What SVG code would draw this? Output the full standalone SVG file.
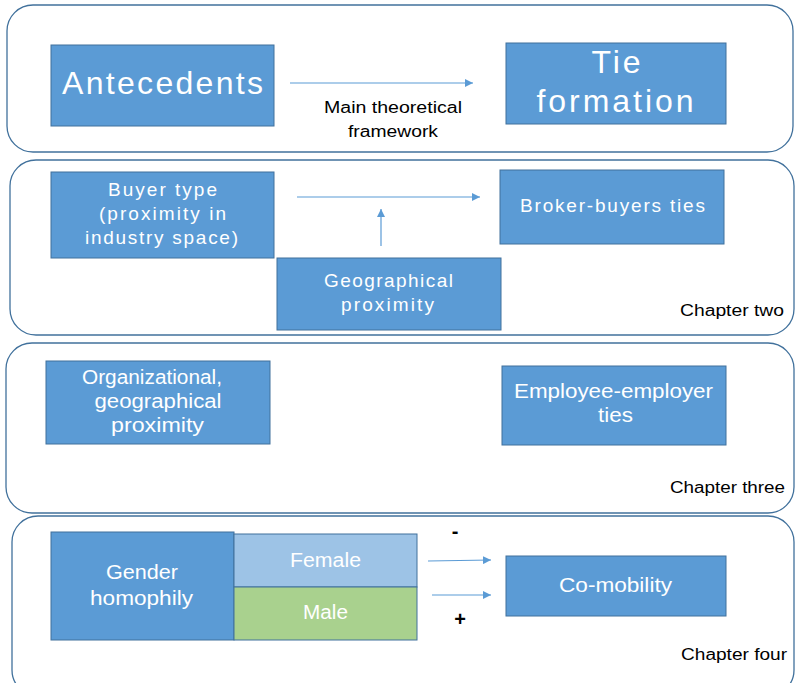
<svg xmlns="http://www.w3.org/2000/svg" width="795" height="683" viewBox="0 0 795 683">
<style>
.panel{fill:#fff;stroke:#41719C;stroke-width:1.3}
.box{fill:#5B9BD5;stroke:#41719C;stroke-width:1}
.bt{fill:#fff;font-family:"Liberation Sans",Arial,sans-serif;text-anchor:middle}
.lbl{fill:#000;font-family:"Liberation Sans",Arial,sans-serif;font-size:16px;text-anchor:middle}
.sign{fill:#000;font-family:"Liberation Sans",Arial,sans-serif;font-weight:bold;text-anchor:middle}
.con{stroke:#5B9BD5;stroke-width:1.2;fill:none;marker-end:url(#ah)}
</style>
<defs>
<marker id="ah" viewBox="0 0 10 10" refX="10" refY="5" markerWidth="8" markerHeight="8" markerUnits="userSpaceOnUse" orient="auto">
<path d="M0,0 L10,5 L0,10 z" fill="#5B9BD5"/>
</marker>
</defs>
<rect width="795" height="683" fill="#fff"/>
<g id="panels">
<rect class="panel" x="7" y="5" width="786" height="147" rx="26"/>
<rect class="panel" x="10" y="160" width="784" height="175" rx="26"/>
<rect class="panel" x="6" y="343" width="788" height="170" rx="26"/>
<rect class="panel" x="12" y="516" width="782" height="180" rx="26"/>
</g>
<g id="antecedents">
<rect class="box" x="51" y="45" width="223" height="81"/>
<text class="bt" x="162.5" y="94" font-size="32" textLength="201" lengthAdjust="spacing">Antecedents</text>
</g>
<g id="tie-formation">
<rect class="box" x="506" y="43" width="220" height="81"/>
<text class="bt" x="616" y="73" font-size="32" textLength="49" lengthAdjust="spacing">Tie</text>
<text class="bt" x="615" y="112" font-size="32" textLength="157" lengthAdjust="spacing">formation</text>
</g>
<g id="main-label">
<text class="lbl" x="393" y="113" font-size="17" textLength="138" lengthAdjust="spacingAndGlyphs">Main theoretical</text>
<text class="lbl" x="393" y="137" font-size="17" textLength="90" lengthAdjust="spacingAndGlyphs">framework</text>
</g>
<g id="buyer-type">
<rect class="box" x="51" y="172" width="223" height="86"/>
<text class="bt" x="162.5" y="196" font-size="19" textLength="109" lengthAdjust="spacing">Buyer type</text>
<text class="bt" x="162.5" y="220" font-size="19" textLength="127" lengthAdjust="spacing">(proximity in</text>
<text class="bt" x="161.5" y="244" font-size="19" textLength="153" lengthAdjust="spacing">industry space)</text>
</g>
<g id="geo-proximity">
<rect class="box" x="277" y="258" width="224" height="72"/>
<text class="bt" x="388.5" y="287" font-size="19" textLength="129" lengthAdjust="spacing">Geographical</text>
<text class="bt" x="387.5" y="311" font-size="19" textLength="93" lengthAdjust="spacing">proximity</text>
</g>
<g id="broker-buyers">
<rect class="box" x="500" y="170" width="224" height="74"/>
<text class="bt" x="612.5" y="212" font-size="19" textLength="185" lengthAdjust="spacing">Broker-buyers ties</text>
</g>
<g id="chapter-two-label"><text class="lbl" x="732" y="316" font-size="17" textLength="104" lengthAdjust="spacingAndGlyphs">Chapter two</text></g>
<g id="org-geo">
<rect class="box" x="46" y="361" width="224" height="83"/>
<text class="bt" x="152" y="384" font-size="20" textLength="140" lengthAdjust="spacingAndGlyphs">Organizational,</text>
<text class="bt" x="158" y="408" font-size="20" textLength="127" lengthAdjust="spacingAndGlyphs">geographical</text>
<text class="bt" x="157.5" y="432" font-size="20" textLength="93" lengthAdjust="spacingAndGlyphs">proximity</text>
</g>
<g id="employee-employer">
<rect class="box" x="502" y="366" width="224" height="79"/>
<text class="bt" x="613.5" y="398" font-size="20" textLength="199" lengthAdjust="spacingAndGlyphs">Employee-employer</text>
<text class="bt" x="615.5" y="422" font-size="20" textLength="35" lengthAdjust="spacingAndGlyphs">ties</text>
</g>
<g id="chapter-three-label"><text class="lbl" x="727.5" y="493" font-size="17" textLength="115" lengthAdjust="spacingAndGlyphs">Chapter three</text></g>
<g id="gender-homophily">
<rect class="box" x="51" y="532" width="183" height="108"/>
<text class="bt" x="142" y="579" font-size="20" textLength="72" lengthAdjust="spacingAndGlyphs">Gender</text>
<text class="bt" x="141.5" y="605" font-size="20" textLength="103" lengthAdjust="spacingAndGlyphs">homophily</text>
</g>
<g id="female">
<rect x="234" y="534" width="183" height="53" fill="#9DC3E6" stroke="#41719C" stroke-width="1"/>
<text class="bt" x="325.5" y="567" font-size="20" textLength="71" lengthAdjust="spacingAndGlyphs">Female</text>
</g>
<g id="male">
<rect x="234" y="587" width="183" height="53" fill="#A9D18E" stroke="#41719C" stroke-width="1"/>
<text class="bt" x="325.5" y="619" font-size="20" textLength="45" lengthAdjust="spacingAndGlyphs">Male</text>
</g>
<g id="co-mobility">
<rect class="box" x="506" y="556" width="220" height="60"/>
<text class="bt" x="615.5" y="592" font-size="20" textLength="113" lengthAdjust="spacingAndGlyphs">Co-mobility</text>
</g>
<g id="chapter-four-label"><text class="lbl" x="734" y="660" font-size="17" textLength="106" lengthAdjust="spacingAndGlyphs">Chapter four</text></g>
<g id="signs">
<text class="sign" x="455" y="538" font-size="20">-</text>
<text class="sign" x="460" y="626" font-size="20">+</text>
</g>
<g id="connectors">
<line class="con" x1="290" y1="83" x2="473" y2="83"/>
<line class="con" x1="297" y1="197" x2="480" y2="197"/>
<line class="con" x1="381" y1="246" x2="381" y2="209"/>
<line class="con" x1="428" y1="561" x2="491" y2="560"/>
<line class="con" x1="432" y1="595" x2="491" y2="595"/>
</g>
</svg>
